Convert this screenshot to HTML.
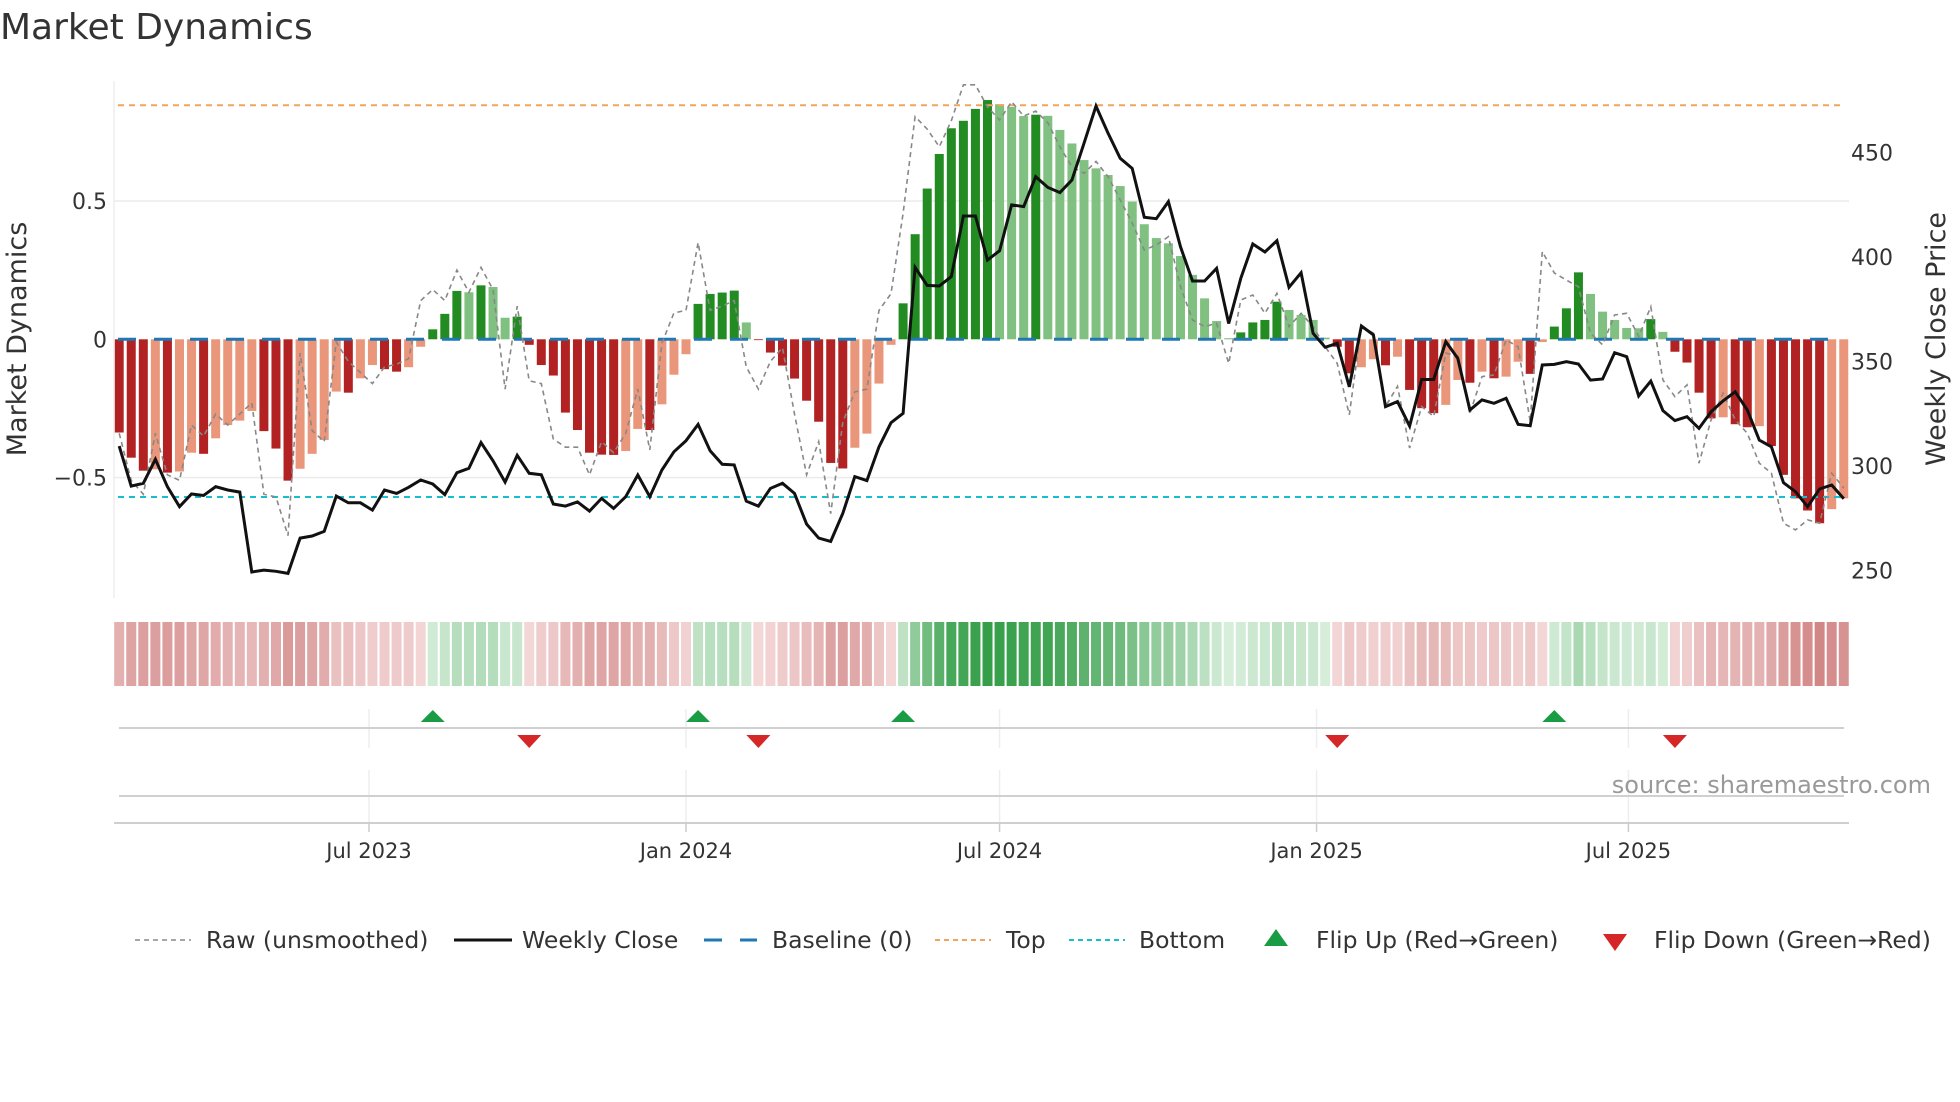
<!DOCTYPE html>
<html><head><meta charset="utf-8"><style>
html,body{margin:0;padding:0;background:#fff;}
svg{display:block;font-family:"DejaVu Sans","Liberation Sans",sans-serif;}
</style></head><body>
<svg id="chart" width="1960" height="1102" viewBox="0 0 1960 1102" xmlns="http://www.w3.org/2000/svg">
<rect width="1960" height="1102" fill="#fff"/>
<text x="0" y="39" font-size="36" fill="#333">Market Dynamics</text>
<g id="grid"></g>
<g id="bars"></g>
<g id="lines"></g>
<g id="axes"></g>
<g id="strip"></g>
<g id="flips"></g>
<text transform="translate(26,339) rotate(-90)" text-anchor="middle" font-size="27" fill="#333">Market Dynamics</text>
<text transform="translate(1945,339) rotate(-90)" text-anchor="middle" font-size="27" fill="#333">Weekly Close Price</text>
<text x="1931" y="793" text-anchor="end" font-size="24" fill="#999">source: sharemaestro.com</text>
<g font-size="23.5" fill="#333">
  <g><line x1="135" y1="940" x2="191" y2="940" stroke="#888" stroke-width="1.5" stroke-dasharray="5,4"/><text x="206" y="948">Raw (unsmoothed)</text></g>
  <g><line x1="454" y1="940" x2="512" y2="940" stroke="#111" stroke-width="3"/><text x="522" y="948">Weekly Close</text></g>
  <g><line x1="704" y1="940" x2="757" y2="940" stroke="#1f77b4" stroke-width="3" stroke-dasharray="18,18"/><line x1="740" y1="940" x2="757" y2="940" stroke="#1f77b4" stroke-width="3"/><text x="772" y="948">Baseline (0)</text></g>
  <g><line x1="935" y1="940" x2="991" y2="940" stroke="#f0a55a" stroke-width="2" stroke-dasharray="5,4"/><text x="1006" y="948">Top</text></g>
  <g><line x1="1069" y1="940" x2="1125" y2="940" stroke="#17becf" stroke-width="2" stroke-dasharray="5,4"/><text x="1139" y="948">Bottom</text></g>
  <g><polygon points="1276,929 1264,946 1288,946" fill="#1a9c45"/><text x="1316" y="948">Flip Up (Red→Green)</text></g>
  <g><polygon points="1603,934 1627,934 1615,951" fill="#d62728"/><text x="1654" y="948">Flip Down (Green→Red)</text></g>
</g>
</svg>
<script>
const startDate = "2023-02-06";
const dynamics = [-0.337,-0.428,-0.475,-0.47,-0.482,-0.478,-0.41,-0.414,-0.358,-0.31,-0.294,-0.259,-0.332,-0.395,-0.511,-0.468,-0.414,-0.364,-0.189,-0.193,-0.141,-0.093,-0.108,-0.117,-0.101,-0.027,0.036,0.092,0.175,0.170,0.195,0.189,0.078,0.082,-0.02,-0.093,-0.131,
-0.265,-0.328,-0.41,-0.417,-0.418,-0.404,-0.324,-0.328,-0.235,-0.128,-0.054,0.128,0.164,0.169,0.176,0.061,-0.003,-0.048,-0.095,-0.142,-0.222,-0.298,-0.447,-0.467,-0.392,-0.341,-0.16,-0.02,0.13,0.38,0.545,0.67,0.763,0.79,0.833,0.865,
0.85,0.84,0.807,0.812,0.808,0.757,0.708,0.648,0.618,0.594,0.554,0.498,0.416,0.366,0.347,0.301,0.233,0.148,0.066,0.004,0.025,0.061,0.07,0.136,0.106,0.088,0.07,0.006,-0.027,-0.123,-0.101,-0.072,-0.094,-0.063,-0.183,-0.249,-0.267,
-0.237,-0.147,-0.157,-0.117,-0.141,-0.135,-0.081,-0.125,-0.01,0.046,0.112,0.242,0.164,0.1,0.07,0.041,0.04,0.073,0.027,-0.045,-0.084,-0.193,-0.286,-0.282,-0.307,-0.318,-0.314,-0.386,-0.49,-0.575,-0.619,-0.665,-0.614,-0.575];
const rawValues = [-0.34,-0.51,-0.56,-0.34,-0.49,-0.51,-0.31,-0.35,-0.27,-0.31,-0.27,-0.23,-0.56,-0.57,-0.71,-0.05,-0.33,-0.37,-0.01,-0.08,-0.12,-0.16,-0.10,-0.09,-0.07,0.14,0.18,0.14,0.25,0.17,0.26,0.18,-0.18,0.12,-0.15,-0.16,-0.36,
-0.39,-0.39,-0.49,-0.37,-0.41,-0.34,-0.18,-0.40,-0.015,0.095,0.105,0.35,0.105,0.12,0.14,-0.10,-0.18,-0.08,-0.03,-0.27,-0.49,-0.37,-0.63,-0.30,-0.19,-0.18,0.105,0.165,0.455,0.805,0.76,0.696,0.79,0.92,0.92,0.84,
0.793,0.859,0.807,0.825,0.783,0.696,0.624,0.6,0.643,0.588,0.504,0.42,0.323,0.341,0.371,0.19,0.07,0.046,0.058,-0.087,0.142,0.16,0.094,0.166,0.046,0.094,0.046,-0.027,-0.087,-0.273,0.046,0.022,-0.243,-0.17,-0.393,-0.243,-0.279,
-0.05,-0.06,-0.268,-0.135,-0.129,-0.002,-0.027,-0.298,0.317,0.24,0.214,0.19,0.022,-0.02,0.088,0.094,0.01,0.118,-0.147,-0.207,-0.165,-0.448,-0.291,-0.195,-0.291,-0.34,-0.448,-0.484,-0.665,-0.689,-0.653,-0.665,-0.484,-0.538];
const closePrices = [309.6,290.5,291.8,303.3,290.2,280.6,286.7,286,290.2,288.6,287.6,249.4,250.3,249.7,248.7,265.6,266.6,268.8,285.7,282.5,282.5,279,288.6,287,289.9,293.4,291.5,286.4,296.9,299,311.3,302.6,292.4,305.2,296.6,295.9,281.9,
280.9,282.9,278.5,284.6,279.8,285.4,295.8,285.4,298.2,306.9,312.2,320,307.4,300.9,300.6,283.3,280.9,289.4,291.8,287,272.3,265.6,264,277.4,295,293.1,309.3,320.8,325.3,395.1,386.5,386.2,390.7,419.7,419.7,398.6,
403.1,425,424.2,438.5,433.4,430.9,436.9,454.5,472.3,459.3,447.3,442.5,419.1,418.4,426.6,405,388.6,388.6,394.7,368.3,389.9,406.3,402.5,407.9,385.6,392.6,363.6,356.9,358.8,338,367.1,362.8,328.5,330.9,319.2,341.5,341.5,
359.6,351.6,326.9,331.7,330.1,332.5,320,319.4,348.4,348.7,350,348.9,341.2,341.7,354.3,352.4,333.6,340.7,326.6,321.8,323.7,318.1,326.1,331.3,335.6,326.9,312.5,309.3,292.1,287.8,280.6,289.1,291,284.4];
const leftTicks = [0.5, 0, -0.5];
const leftTickLabels = ["0.5", "0", "\u22120.5"];
const rightTicks = [450, 400, 350, 300, 250];
const xTickDates = ["2023-07-01","2024-01-01","2024-07-01","2025-01-01","2025-07-01"];
const xTickLabels = ["Jul 2023","Jan 2024","Jul 2024","Jan 2025","Jul 2025"];
const topLevel = 0.846;
const bottomLevel = -0.57;

const NS = "http://www.w3.org/2000/svg";
const DAY = 86400000;
const PXDAY = 12.06 / 7;
const t0 = Date.parse("2023-07-01");
const xDate = d => 369 + (Date.parse(d) - t0) / DAY * PXDAY;
const t0s = Date.parse(startDate);
const xIdx = i => 369 + ((t0s + i * 7 * DAY) - t0) / DAY * PXDAY;
const yL = v => 339.3 - v * 276.6;
const yR = p => 361.7 + (350 - p) * 2.09;
function mk(tag, attrs, parent) {
  const e = document.createElementNS(NS, tag);
  for (const k in attrs) e.setAttribute(k, attrs[k]);
  parent.appendChild(e);
  return e;
}
const grid = document.getElementById('grid');
const axes = document.getElementById('axes');
const bars = document.getElementById('bars');
const lines = document.getElementById('lines');
const strip = document.getElementById('strip');
const flips = document.getElementById('flips');
const X0 = 114, X1 = 1849;

let sp = mk('line', {x1: X0, y1: 81, x2: X0, y2: 598, stroke: '#eee', 'stroke-width': 1.5}, axes);


leftTicks.forEach((v, k) => {
  if (v !== 0) {
    const g = mk('line', {x1: X0, y1: yL(v), x2: X1, y2: yL(v), stroke: '#ececec', 'stroke-width': 1.5}, grid);
    
    
  }
  const t = mk('text', {x: 107, y: yL(v) + 8, 'text-anchor': 'end', 'font-size': 22, fill: '#333'}, axes);
  t.textContent = leftTickLabels[k];
  
  
});
rightTicks.forEach(p => {
  const t = mk('text', {x: 1851, y: yR(p) + 8, 'font-size': 22, fill: '#333'}, axes);
  t.textContent = String(p);
  
  
});

dynamics.forEach((v, i) => {
  const prev = i > 0 ? dynamics[i - 1] : 0;
  const dark = i === 0 || Math.sign(prev) !== Math.sign(v) || Math.abs(v) > Math.abs(prev);
  const col = v >= 0 ? (dark ? '#228b22' : '#80c080') : (dark ? '#b22222' : '#e9967a');
  const y0 = yL(0), y1 = yL(v);
  const b = mk('rect', {x: xIdx(i) - 4.5, y: Math.min(y0, y1), width: 9, height: Math.max(0.8, Math.abs(y1 - y0)), fill: col}, bars);
  
  
});

let ln = mk('line', {x1: 118, y1: yL(0), x2: 1845, y2: yL(0), stroke: '#1f77b4', 'stroke-width': 3, 'stroke-dasharray': '18,18'}, lines);


ln = mk('line', {x1: 118, y1: yL(topLevel), x2: 1845, y2: yL(topLevel), stroke: '#f0a55a', 'stroke-width': 2, 'stroke-dasharray': '6,5'}, lines);


ln = mk('line', {x1: 118, y1: yL(bottomLevel), x2: 1845, y2: yL(bottomLevel), stroke: '#17becf', 'stroke-width': 2, 'stroke-dasharray': '6,5'}, lines);



const rawPath = mk('polyline', {points: rawValues.map((v, i) => xIdx(i).toFixed(1) + ',' + yL(v).toFixed(1)).join(' '), fill: 'none', stroke: '#888', 'stroke-width': 1.6, 'stroke-dasharray': '5,4'}, lines);


const closePath = mk('polyline', {points: closePrices.map((p, i) => xIdx(i).toFixed(1) + ',' + yR(p).toFixed(1)).join(' '), fill: 'none', stroke: '#111', 'stroke-width': 3, 'stroke-linejoin': 'miter'}, lines);



function mix(a, b, t) {
  return 'rgb(' + [0, 1, 2].map(k => Math.round(a[k] + (b[k] - a[k]) * t)).join(',') + ')';
}
dynamics.forEach((v, i) => {
  const t = Math.min(1, Math.abs(v) / 0.87);
  const col = v >= 0 ? mix([215, 238, 219], [52, 158, 72], t) : mix([244, 216, 216], [200, 110, 110], t);
  const c = mk('rect', {x: xIdx(i) - 5, y: 622, width: 10, height: 64, fill: col}, strip);
  
  
});

let a = mk('line', {x1: 119, y1: 728, x2: 1844, y2: 728, stroke: '#d0d0d0', 'stroke-width': 2}, axes);


a = mk('line', {x1: 119, y1: 796, x2: 1844, y2: 796, stroke: '#d0d0d0', 'stroke-width': 2}, axes);


a = mk('line', {x1: 114, y1: 823, x2: 1849, y2: 823, stroke: '#cfcfcf', 'stroke-width': 2}, axes);


xTickDates.forEach((d, k) => {
  const x = xDate(d);
  let g = mk('line', {x1: x, y1: 709, x2: x, y2: 748, stroke: '#eee', 'stroke-width': 1.5}, grid);
  
  
  g = mk('line', {x1: x, y1: 770, x2: x, y2: 823, stroke: '#eee', 'stroke-width': 1.5}, grid);
  
  
  const tk = mk('line', {x1: x, y1: 823, x2: x, y2: 832, stroke: '#ccc', 'stroke-width': 1.5}, axes);
  
  
  const t = mk('text', {x: x, y: 858, 'text-anchor': 'middle', 'font-size': 21, fill: '#333'}, axes);
  t.textContent = xTickLabels[k];
  
  
});
dynamics.forEach((v, i) => {
  if (i === 0) return;
  const p = dynamics[i - 1];
  const x = xIdx(i);
  if (p < 0 && v >= 0) {
    const m = mk('polygon', {points: (x) + ',710 ' + (x - 12) + ',722 ' + (x + 12) + ',722', fill: '#1a9c45'}, flips);
    
    
  } else if (p >= 0 && v < 0) {
    const m = mk('polygon', {points: (x - 12) + ',735 ' + (x + 12) + ',735 ' + x + ',748', fill: '#d62728'}, flips);
    
    
  }
});
</script>
</body></html>
